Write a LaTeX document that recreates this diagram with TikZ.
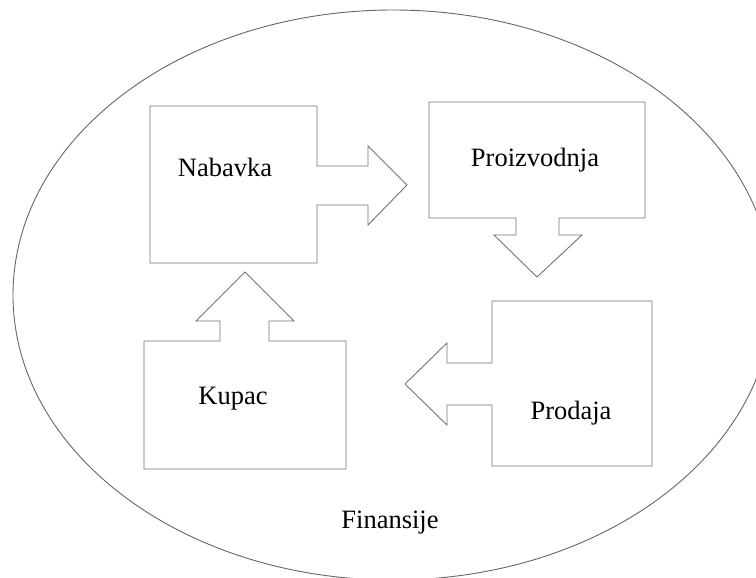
\documentclass[tikz,border=0pt]{standalone}
\usepackage{fontspec}
\setmainfont{Liberation Serif}
\begin{document}
\begin{tikzpicture}[x=1pt,y=-1pt,
  shapeline/.style={draw=black!55,line width=0.9pt,line join=miter},
  lbl/.style={anchor=base,inner sep=0pt,font=\fontsize{26.5}{30}\selectfont,text=black}]
\useasboundingbox (0,0) rectangle (756,578);
\begin{scope}
\clip (0,0) rectangle (756,578);
\draw[draw=black!60,line width=0.9pt] (393,295) ellipse [x radius=380, y radius=285];
\end{scope}
% Nabavka
\draw[shapeline] (150,106) -- (317,106) -- (317,166) -- (368,166) -- (368,146) -- (407,185)
  -- (368,225) -- (368,205) -- (317,205) -- (317,263) -- (150,263) -- cycle;
% Proizvodnja
\draw[shapeline] (429,102) -- (645,102) -- (645,218) -- (559,218) -- (559,235) -- (582,235)
  -- (537,277) -- (494,235) -- (516,235) -- (516,218) -- (429,218) -- cycle;
% Kupac
\draw[shapeline] (144,341) -- (220,341) -- (220,321) -- (196,321) -- (245,272) -- (294,321)
  -- (269,321) -- (269,341) -- (346,341) -- (346,469) -- (144,469) -- cycle;
% Prodaja
\draw[shapeline] (492,301) -- (652,301) -- (652,466) -- (492,466) -- (492,405) -- (447,405)
  -- (447,425) -- (405,384) -- (447,343) -- (447,363) -- (492,363) -- cycle;
\node[lbl] (nabavka) at (225,176) {Nabavka};
\node[lbl] (proizvodnja) at (535,166) {Proizvodnja};
\node[lbl] (kupac) at (233,404) {Kupac};
\node[lbl] (prodaja) at (571,419) {Prodaja};
\node[lbl] (finansije) at (390,528) {Finansije};
\end{tikzpicture}
\end{document}
